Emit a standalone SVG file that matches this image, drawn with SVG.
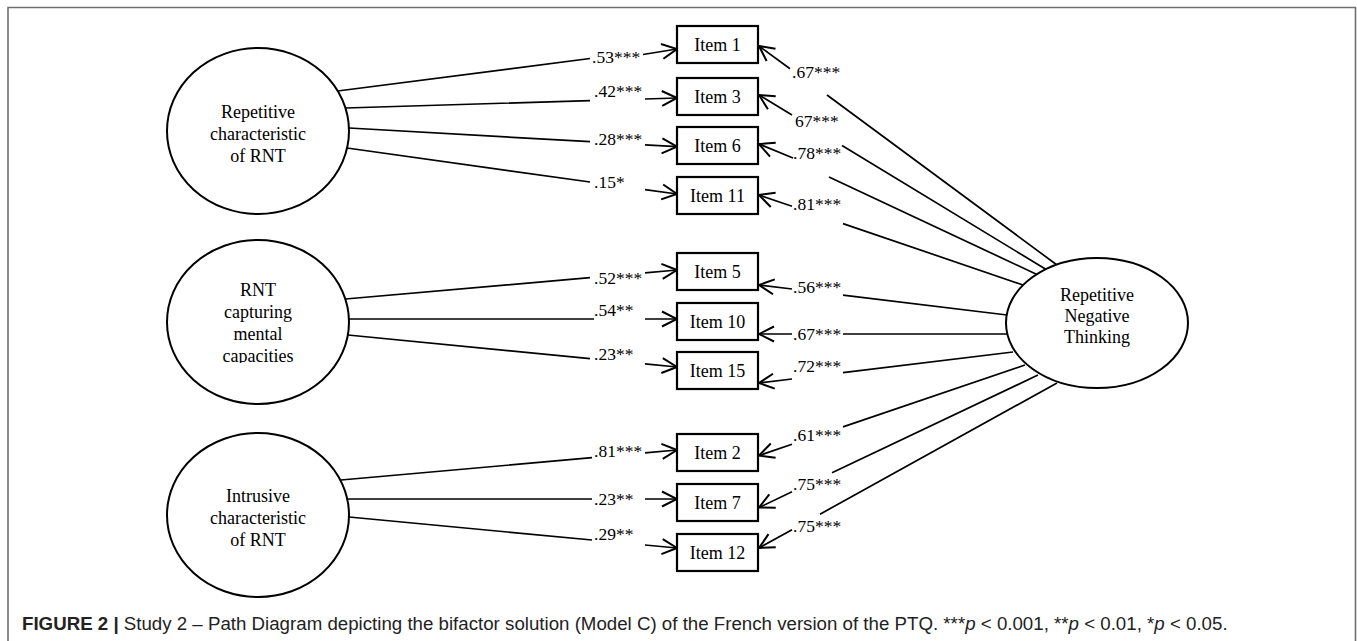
<svg xmlns="http://www.w3.org/2000/svg" width="1357" height="641" viewBox="0 0 1357 641">
<style>
.frame{fill:none;stroke:#6f6f6f;stroke-width:1.6}
.lv{fill:#fff;stroke:#000;stroke-width:2}
.box{fill:#fff;stroke:#000;stroke-width:2.2}
.ln{fill:none;stroke:#000;stroke-width:1.7}
.t{font-family:"Liberation Serif","Times New Roman",serif;font-size:18px;fill:#000;text-anchor:middle}
.lbl{font-family:"Liberation Serif","Times New Roman",serif;font-size:17.5px;fill:#000}
.cap{font-family:"Liberation Sans",Arial,sans-serif;font-size:18.7px;fill:#222}
</style>
<defs>
<marker id="ah" markerUnits="userSpaceOnUse" viewBox="-17 -10 19 20" refX="0" refY="0" markerWidth="19" markerHeight="20" orient="auto">
<path d="M-15,-7.5 L0,0 L-15,7.5" fill="none" stroke="#000" stroke-width="2"/>
</marker>
<clipPath id="clip2"><rect x="160" y="230" width="200" height="133"/></clipPath>
</defs>
<path class="frame" d="M8,641 L8,7.5 L1355.5,7.5 L1355.5,641"/>

<g id="connectors">
<g id="c-r1-i1"><path class="ln" marker-end="url(#ah)" d="M337.7,91 L590,58.5 M643,54.5 L677,49"/><text class="lbl" x="592" y="63">.53***</text></g>
<g id="c-r1-i3"><path class="ln" marker-end="url(#ah)" d="M345.4,108 L590,100.6 M645,99 L677,98"/><text class="lbl" x="594" y="97">.42***</text></g>
<g id="c-r1-i6"><path class="ln" marker-end="url(#ah)" d="M349,128 L590,141.7 M645,144.9 L677,146.7"/><text class="lbl" x="594" y="145">.28***</text></g>
<g id="c-r1-i11"><path class="ln" marker-end="url(#ah)" d="M347,148 L590,182 M645,189.6 L677,194"/><text class="lbl" x="594" y="188">.15*</text></g>
<g id="c-r2-i5"><path class="ln" marker-end="url(#ah)" d="M345.4,299 L590,277.6 M645,272.8 L677,270"/><text class="lbl" x="594" y="284">.52***</text></g>
<g id="c-r2-i10"><path class="ln" marker-end="url(#ah)" d="M349,319 L594,319 M645,319 L677,319"/><text class="lbl" x="594" y="316">.54**</text></g>
<g id="c-r2-i15"><path class="ln" marker-end="url(#ah)" d="M347.9,335 L590,358.6 M645,363.9 L677,367"/><text class="lbl" x="594" y="360">.23**</text></g>
<g id="c-r3-i2"><path class="ln" marker-end="url(#ah)" d="M341,480 L592,457.7 M645,452.9 L677,450"/><text class="lbl" x="594" y="457">.81***</text></g>
<g id="c-r3-i7"><path class="ln" marker-end="url(#ah)" d="M347,499 L592,499 M645,499 L677,499"/><text class="lbl" x="594" y="505">.23**</text></g>
<g id="c-r3-i12"><path class="ln" marker-end="url(#ah)" d="M349,517 L592,540 M645,545 L677,548"/><text class="lbl" x="594" y="540">.29**</text></g>

<g id="c-g-i1"><path class="ln" marker-end="url(#ah)" d="M1057,265 L827,95 M790,68.8 L759,46"/><text class="lbl" x="792" y="78">.67***</text></g>
<g id="c-g-i3"><path class="ln" marker-end="url(#ah)" d="M1047,270 L842,145.4 M792,115 L759,95"/><text class="lbl" x="795" y="127">67***</text></g>
<g id="c-g-i6"><path class="ln" marker-end="url(#ah)" d="M1038,275 L829,176.9 M793,158 L759,144"/><text class="lbl" x="793" y="159">.78***</text></g>
<g id="c-g-i11"><path class="ln" marker-end="url(#ah)" d="M1023,285 L843,223.6 M792,206.3 L759,195"/><text class="lbl" x="793" y="210">.81***</text></g>
<g id="c-g-i5"><path class="ln" marker-end="url(#ah)" d="M1007,315 L843,295.2 M792,289 L759,285"/><text class="lbl" x="793" y="293">.56***</text></g>
<g id="c-g-i10"><path class="ln" marker-end="url(#ah)" d="M1007,334 L843,334 M792,334 L759,334"/><text class="lbl" x="793" y="340">.67***</text></g>
<g id="c-g-i15"><path class="ln" marker-end="url(#ah)" d="M1013,352 L843,372.7 M792,379 L759,383"/><text class="lbl" x="793" y="372">.72***</text></g>
<g id="c-g-i2"><path class="ln" marker-end="url(#ah)" d="M1025,365 L843,426.9 M792,444.3 L759,455.5"/><text class="lbl" x="793" y="441">.61***</text></g>
<g id="c-g-i7"><path class="ln" marker-end="url(#ah)" d="M1038,375 L832,472.8 M792,491.8 L759,507.5"/><text class="lbl" x="793" y="490">.75***</text></g>
<g id="c-g-i12"><path class="ln" marker-end="url(#ah)" d="M1057,383 L820,514.2 M792,529.7 L759,548"/><text class="lbl" x="793" y="532">.75***</text></g>
</g>

<g id="f-repetitive"><ellipse class="lv" cx="258" cy="131" rx="91" ry="83"/><text class="t" x="258" y="118">Repetitive</text><text class="t" x="258" y="140">characteristic</text><text class="t" x="258" y="162">of RNT</text></g>
<g id="f-capturing"><ellipse class="lv" cx="258" cy="322" rx="91" ry="82"/><g clip-path="url(#clip2)"><text class="t" x="258" y="296">RNT</text><text class="t" x="258" y="318">capturing</text><text class="t" x="258" y="340">mental</text><text class="t" x="258" y="362">capacities</text></g></g>
<g id="f-intrusive"><ellipse class="lv" cx="258" cy="515" rx="91" ry="82"/><text class="t" x="258" y="502">Intrusive</text><text class="t" x="258" y="524">characteristic</text><text class="t" x="258" y="546">of RNT</text></g>
<g id="f-rnt"><ellipse class="lv" cx="1097" cy="323" rx="91" ry="65"/><text class="t" x="1097" y="301">Repetitive</text><text class="t" x="1097" y="322">Negative</text><text class="t" x="1097" y="343">Thinking</text></g>

<g id="item1"><rect class="box" x="677" y="26" width="81" height="37"/><text class="t" x="717.5" y="51">Item 1</text></g>
<g id="item3"><rect class="box" x="677" y="78" width="81" height="37"/><text class="t" x="717.5" y="103">Item 3</text></g>
<g id="item6"><rect class="box" x="677" y="127" width="81" height="37"/><text class="t" x="717.5" y="152">Item 6</text></g>
<g id="item11"><rect class="box" x="677" y="177" width="81" height="37"/><text class="t" x="717.5" y="202">Item 11</text></g>
<g id="item5"><rect class="box" x="677" y="253" width="81" height="37"/><text class="t" x="717.5" y="278">Item 5</text></g>
<g id="item10"><rect class="box" x="677" y="303" width="81" height="37"/><text class="t" x="717.5" y="328">Item 10</text></g>
<g id="item15"><rect class="box" x="677" y="352" width="81" height="37"/><text class="t" x="717.5" y="377">Item 15</text></g>
<g id="item2"><rect class="box" x="677" y="434" width="81" height="37"/><text class="t" x="717.5" y="459">Item 2</text></g>
<g id="item7"><rect class="box" x="677" y="484" width="81" height="37"/><text class="t" x="717.5" y="509">Item 7</text></g>
<g id="item12"><rect class="box" x="677" y="534" width="81" height="37"/><text class="t" x="717.5" y="559">Item 12</text></g>

<text class="cap" x="22" y="630"><tspan font-weight="bold">FIGURE 2 |</tspan> Study 2 – Path Diagram depicting the bifactor solution (Model C) of the French version of the PTQ. ***<tspan font-style="italic">p</tspan> &lt; 0.001, **<tspan font-style="italic">p</tspan> &lt; 0.01, *<tspan font-style="italic">p</tspan> &lt; 0.05.</text>
</svg>
